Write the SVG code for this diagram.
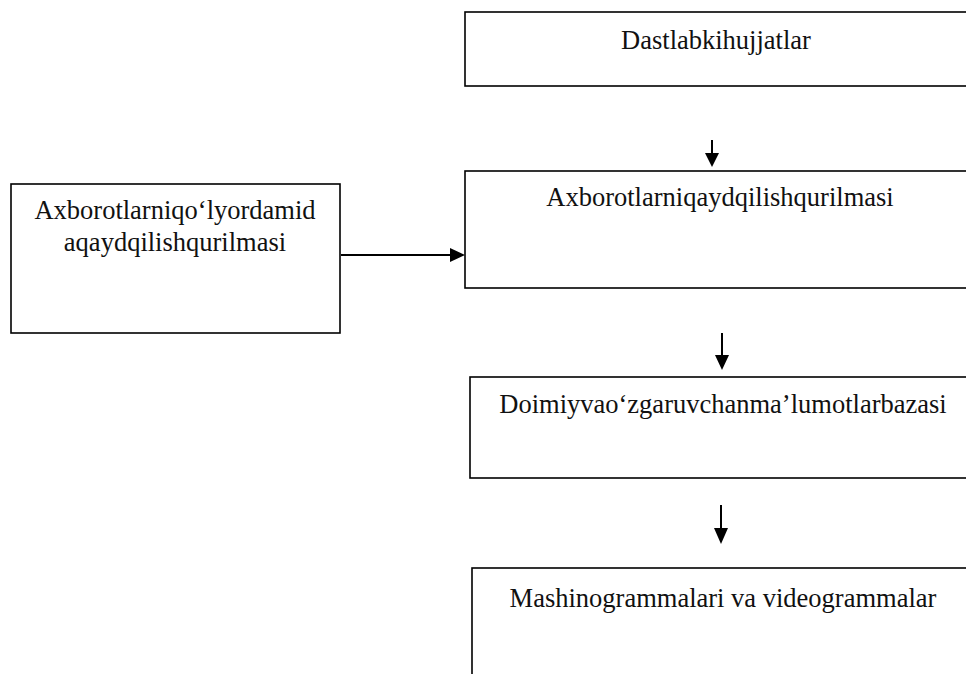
<svg xmlns="http://www.w3.org/2000/svg" width="966" height="674" viewBox="0 0 966 674">
<style>
.box{fill:#fff;stroke:#000;stroke-width:1.6}
.t{font-family:"Liberation Serif","Times New Roman",serif;font-size:26.5px;fill:#111;text-anchor:middle}
.ln{stroke:#000;stroke-width:2;fill:none}
.hd{fill:#000}
</style>
<rect width="966" height="674" fill="#fff"/>
<g id="n1"><rect class="box" x="465" y="12" width="520" height="74"/><text class="t" x="716" y="49">Dastlabkihujjatlar</text></g>
<g id="n2"><rect class="box" x="465" y="171" width="520" height="117"/><text class="t" x="720" y="206">Axborotlarniqaydqilishqurilmasi</text></g>
<g id="n0"><rect class="box" x="11" y="184" width="329" height="149"/><text class="t" x="175" y="219">Axborotlarniqo‘lyordamid</text><text class="t" x="175" y="251">aqaydqilishqurilmasi</text></g>
<g id="n3"><rect class="box" x="470" y="377" width="520" height="101"/><text class="t" x="723" y="413">Doimiyvao‘zgaruvchanma’lumotlarbazasi</text></g>
<g id="n4"><rect class="box" x="472" y="568" width="520" height="130"/><text class="t" x="723" y="607">Mashinogrammalari va videogrammalar</text></g>
<g id="connectors">
<line class="ln" x1="712" y1="140" x2="712" y2="154"/><polygon class="hd" points="705,153 719,153 712,167"/>
<line class="ln" x1="341" y1="255" x2="452" y2="255"/><polygon class="hd" points="450,248 450,262 465,255"/>
<line class="ln" x1="722" y1="333" x2="722" y2="357"/><polygon class="hd" points="715,355 729,355 722,370"/>
<line class="ln" x1="721" y1="505" x2="721" y2="530"/><polygon class="hd" points="714,528 728,528 721,544"/>
</g>
</svg>
